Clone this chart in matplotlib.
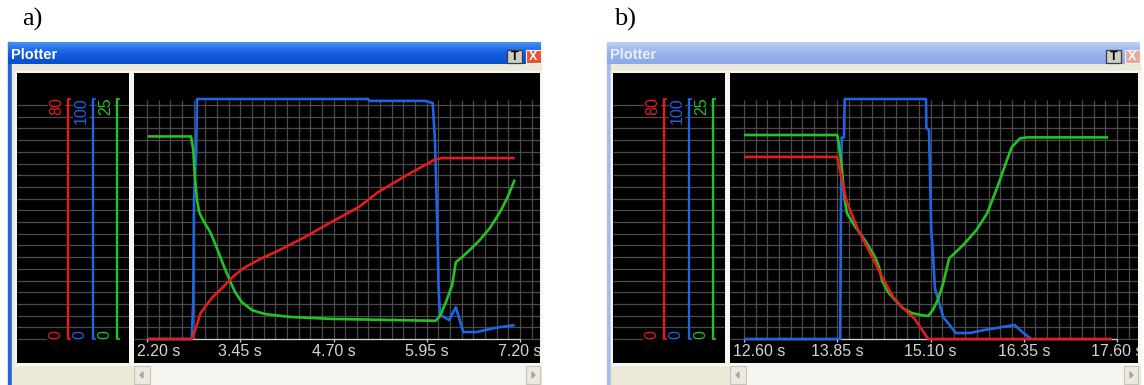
import matplotlib
matplotlib.use("Agg")
import matplotlib.pyplot as plt
from matplotlib.patches import Rectangle, Polygon
from matplotlib.colors import LinearSegmentedColormap
import numpy as np

# ---------------- data ----------------
scale_top = [80, 100, 25]          # red, blue, green full-scale values
scale_bottom = [0, 0, 0]
ticks_a = [2.20, 3.45, 4.70, 5.95, 7.20]
ticks_b = [12.60, 13.85, 15.10, 16.35, 17.60]
tick_labels_a = ["2.20 s", "3.45 s", "4.70 s", "5.95 s", "7.20 s"]
tick_labels_b = ["12.60 s", "13.85 s", "15.10 s", "16.35 s", "17.60 s"]
panel_labels = ["a)", "b)"]
window_title = "Plotter"

# panel a
a_red_t = [2.21, 2.80, 2.86, 2.92, 3.07, 3.22, 3.35, 3.50, 3.69, 3.98, 4.32, 4.65,
           5.04, 5.30, 5.66, 6.05, 6.15, 7.13]
a_red_v = [0, 0, 4.0, 8.7, 13.7, 17.3, 20.7, 23.7, 26.3, 29.7, 34.0, 38.7,
           44.0, 49.0, 54.3, 59.7, 60.3, 60.3]
a_blue_t = [2.21, 2.80, 2.82, 2.83, 2.86, 2.87, 5.16, 5.19, 5.93, 6.03, 6.06, 6.09,
            6.11, 6.13, 6.25, 6.34, 6.44, 6.62, 6.86, 7.13]
a_blue_v = [0, 0, 16, 58, 79, 100, 100, 99.2, 99.2, 98.3, 83, 50,
            20, 10, 7.9, 13.3, 2.9, 2.9, 4.6, 5.8]
a_green_t = [2.21, 2.79, 2.82, 2.84, 2.87, 2.90, 2.95, 3.05, 3.13, 3.23, 3.31, 3.38,
             3.47, 3.61, 3.78, 4.12, 4.65, 5.32, 6.07, 6.13, 6.21, 6.29, 6.34, 6.42,
             6.53, 6.66, 6.80, 6.93, 7.03, 7.13]
a_green_v = [21.1, 21.1, 19.7, 17.1, 14.5, 13.2, 12.4, 11.1, 9.6, 7.6, 6.1, 4.9,
             3.85, 3.0, 2.6, 2.3, 2.1, 2.0, 1.9, 2.4, 3.9, 5.6, 8.0, 8.5,
             9.3, 10.3, 11.6, 13.2, 14.7, 16.6]

# panel b
b_red_t = [12.60, 13.85, 13.90, 13.97, 14.13, 14.32, 14.45, 14.60, 14.73, 14.88, 15.07, 17.53]
b_red_v = [60.7, 60.7, 54.7, 46.3, 36.3, 27.3, 20.7, 14.0, 10.3, 7.0, 0, 0]
b_blue_t = [12.60, 13.89, 13.90, 13.91, 13.94, 13.95, 15.04, 15.045, 15.08, 15.09, 15.11,
            15.13, 15.16, 15.27, 15.44, 15.63, 15.82, 15.99, 16.14, 16.23, 16.33, 16.45]
b_blue_v = [0, 0, 58, 84, 84, 100, 100, 88, 87, 73, 45,
            37, 21, 9.2, 2.5, 2.5, 3.75, 4.6, 5.4, 5.8, 2.9, 0]
b_green_t = [12.60, 13.85, 13.87, 13.91, 13.95, 13.98, 14.09, 14.22, 14.36, 14.41, 14.45,
             14.53, 14.62, 14.73, 14.85, 14.97, 15.07, 15.13, 15.20, 15.27, 15.35, 15.54,
             15.72, 15.86, 15.99, 16.10, 16.19, 16.30, 16.39, 17.48]
b_green_v = [21.25, 21.25, 20.4, 17.9, 14.5, 13.1, 11.7, 10.3, 8.5, 7.5, 6.1,
             4.9, 4.1, 3.2, 2.7, 2.5, 2.4, 3.0, 4.1, 5.8, 8.4, 9.8,
             11.4, 13.1, 15.7, 18.1, 20.0, 20.9, 21.0, 21.0]

# ---------------- layout / style ----------------
W, H = 1144, 385
RED, BLUE, GREEN = '#e41c1c', '#1f63e6', '#22c322'
GRID = '#4b4b4b'
BEIGE = '#ece9d8'
FONT = 'Liberation Sans'
ZERO_PX, FULL_PX = 339, 99          # pixel rows of 0 and full scale
BOX_TOP, BOX_BOT = 73, 363
PX_PER_S = 74.6
SPAN = ZERO_PX - FULL_PX
YLO = -(BOX_BOT - ZERO_PX) / SPAN
YHI = (ZERO_PX - BOX_TOP) / SPAN
GRID_STEP = 11.7 / SPAN

fig = plt.figure(figsize=(W / 100, H / 100), dpi=100)
bg = fig.add_axes([0, 0, 1, 1])
bg.set_autoscale_on(False)
bg.set_xlim(0, W)
bg.set_ylim(H, 0)
bg.axis('off')


def px_axes(x0, y0, x1, y1):
    ax = fig.add_axes([x0 / W, 1 - y1 / H, (x1 - x0) / W, (y1 - y0) / H])
    ax.set_facecolor('black')
    for s in ax.spines.values():
        s.set_visible(False)
    ax.set_xticks([])
    ax.set_yticks([])
    return ax


def window(x0, x1, active, label_x, label):
    border = '#2a62da' if active else '#a8bdec'
    bg.add_patch(Rectangle((x0, 42), 4, H - 42, color=border, zorder=1))
    bg.add_patch(Rectangle((x0 + 4, 64), x1 - x0 - 4, H - 64, color=BEIGE, zorder=1))
    if active:
        stops = ['#4a92f4', '#2b76ee', '#165fe2', '#0f56d4', '#0c4fc8']
        tcol = 'white'
    else:
        stops = ['#c2d2f4', '#a9bff0', '#9cb4ec', '#93aceb', '#8ea7e6']
        tcol = '#e8eefb'
    cmap = LinearSegmentedColormap.from_list('tb', stops)
    grad = np.linspace(0, 1, 60).reshape(-1, 1)
    bg.imshow(grad, cmap=cmap, extent=(x0, x1, 64, 42), aspect='auto',
              origin='upper', zorder=2, interpolation='bilinear')
    bg.text(x0 + 3, 55, window_title, color=tcol, fontsize=10.5, fontweight='bold',
            family=FONT, ha='left', va='center', zorder=3)
    # title buttons
    bx = x1 - 34
    bg.add_patch(Rectangle((bx, 50), 15, 13, facecolor='#d0cdc5', edgecolor='#3c3c3c',
                           lw=0.9, zorder=3))
    bg.text(bx + 7.5, 56.8, 'T', color='black', fontsize=9, fontweight='bold',
            family=FONT, ha='center', va='center', zorder=4)
    ccol = '#e2552f' if active else '#eaa79b'
    bg.add_patch(Rectangle((bx + 19, 50), 15, 13, facecolor=ccol, edgecolor='#f4f0f0',
                           lw=0.8, zorder=3))
    bg.text(bx + 26.5, 56.8, 'X', color='white', fontsize=9, fontweight='bold',
            family=FONT, ha='center', va='center', zorder=4)
    # panel label
    bg.text(label_x, 19, label, color='black', fontsize=19, family='Liberation Serif',
            ha='left', va='center', zorder=3)


def scrollbar(x0, x1):
    bg.add_patch(Rectangle((x0, 366), x1 - x0, 19, color='#f5f4ee', zorder=2))
    for bx in (x0, x1 - 14):
        bg.add_patch(Rectangle((bx, 366), 16 if bx == x0 else 14, 18, facecolor='#ebe9e0',
                               edgecolor='#c8c5b8', lw=0.8, zorder=3))
    bg.add_patch(Polygon([[x0 + 6, 375], [x0 + 9, 372], [x0 + 9, 378]], closed=True,
                         color='#a8a6a0', zorder=4))
    bg.add_patch(Polygon([[x1 - 5, 375], [x1 - 8, 372], [x1 - 8, 378]], closed=True,
                         color='#a8a6a0', zorder=4))


def scale_box(x0, x1):
    ax = px_axes(x0, BOX_TOP, x1, BOX_BOT)
    ax.set_xlim(0, x1 - x0)
    ax.set_ylim(YLO, YHI)
    ax.hlines(np.arange(1, 21) * GRID_STEP, 0, x1 - x0, color=GRID, lw=0.9, zorder=1)
    ax.hlines(0, 0, 30, color=GRID, lw=0.9, zorder=1)
    offs = [51, 75.5, 100]
    for off, top, bot, col in zip(offs, scale_top, scale_bottom, [RED, BLUE, GREEN]):
        ax.vlines(off, 0, 1, color=col, lw=1.7, zorder=3)
        ax.hlines([0, 1], off - 1, off + 3, color=col, lw=1.2, zorder=3)
        ax.text(off - 4, 1.0 + 1.5 / SPAN, str(top), rotation=90, ha='right', va='top',
                color=col, fontsize=11.5, family=FONT, zorder=4,
                bbox=dict(fc='black', ec='none', pad=0.6))
        ax.text(off - 5, 0.0, str(bot), rotation=90, ha='right', va='bottom',
                color=col, fontsize=11.5, family=FONT, zorder=4,
                bbox=dict(fc='black', ec='none', pad=0.6))
    return ax


def main_plot(x0, x1, tick_px, ticks, labels, series):
    ax = px_axes(x0, BOX_TOP, x1, BOX_BOT)
    lo = ticks[0] - (tick_px - x0) / PX_PER_S
    hi = ticks[0] + (x1 - tick_px) / PX_PER_S
    ax.set_xlim(lo, hi)
    ax.set_ylim(YLO, YHI)
    step = (ticks[1] - ticks[0]) / 8
    n = int((hi - ticks[0]) / step) + 1
    vx = ticks[0] + step * np.arange(n)
    ax.vlines(vx, 0, (ZERO_PX - 100) / SPAN, color=GRID, lw=0.9, zorder=1)
    ax.hlines(np.arange(0, 21) * GRID_STEP, lo, hi, color=GRID, lw=0.9, zorder=1)
    ax.hlines(0, ticks[0], ticks[-1], color='#d0d0d0', lw=0.9, zorder=2)
    ax.vlines(ticks, -3 / SPAN, 0, color='#d0d0d0', lw=0.9, zorder=2)
    for t, v, full, col in series:
        ax.plot(t, np.asarray(v) / full, color=col, lw=1.9, zorder=3,
                solid_joinstyle='round', solid_capstyle='butt')
    ly = -12 / SPAN
    for i, (t, lab) in enumerate(zip(ticks, labels)):
        if i == 0:
            ax.text(lo + 2.5 / PX_PER_S, ly, lab, color='#d4d4d4', fontsize=11.5,
                    family=FONT, ha='left', va='center', clip_on=True, zorder=4)
        else:
            ax.text(t, ly, lab, color='#d4d4d4', fontsize=11.5, family=FONT,
                    ha='center', va='center', clip_on=True, zorder=4)
    return ax


# ---- panel a ----
window(8, 541, True, 22, panel_labels[0])
bg.add_patch(Rectangle((15, 71), 116, 294, color='#f7f6f1', zorder=2))
bg.add_patch(Rectangle((132, 71), 409, 294, color='#f7f6f1', zorder=2))
scale_box(17, 129)
main_plot(134, 540, 147, ticks_a, tick_labels_a,
          [(a_blue_t, a_blue_v, scale_top[1], BLUE),
           (a_green_t, a_green_v, scale_top[2], GREEN),
           (a_red_t, a_red_v, scale_top[0], RED)])
scrollbar(134, 540)

# ---- panel b ----
window(607, 1140, False, 614, panel_labels[1])
bg.add_patch(Rectangle((611, 71), 116, 294, color='#f7f6f1', zorder=2))
bg.add_patch(Rectangle((728, 71), 412, 294, color='#f7f6f1', zorder=2))
scale_box(613, 725)
main_plot(730, 1138, 744, ticks_b, tick_labels_b,
          [(b_blue_t, b_blue_v, scale_top[1], BLUE),
           (b_green_t, b_green_v, scale_top[2], GREEN),
           (b_red_t, b_red_v, scale_top[0], RED)])
scrollbar(730, 1138)

fig.savefig('out.png', dpi=100, facecolor='white')
